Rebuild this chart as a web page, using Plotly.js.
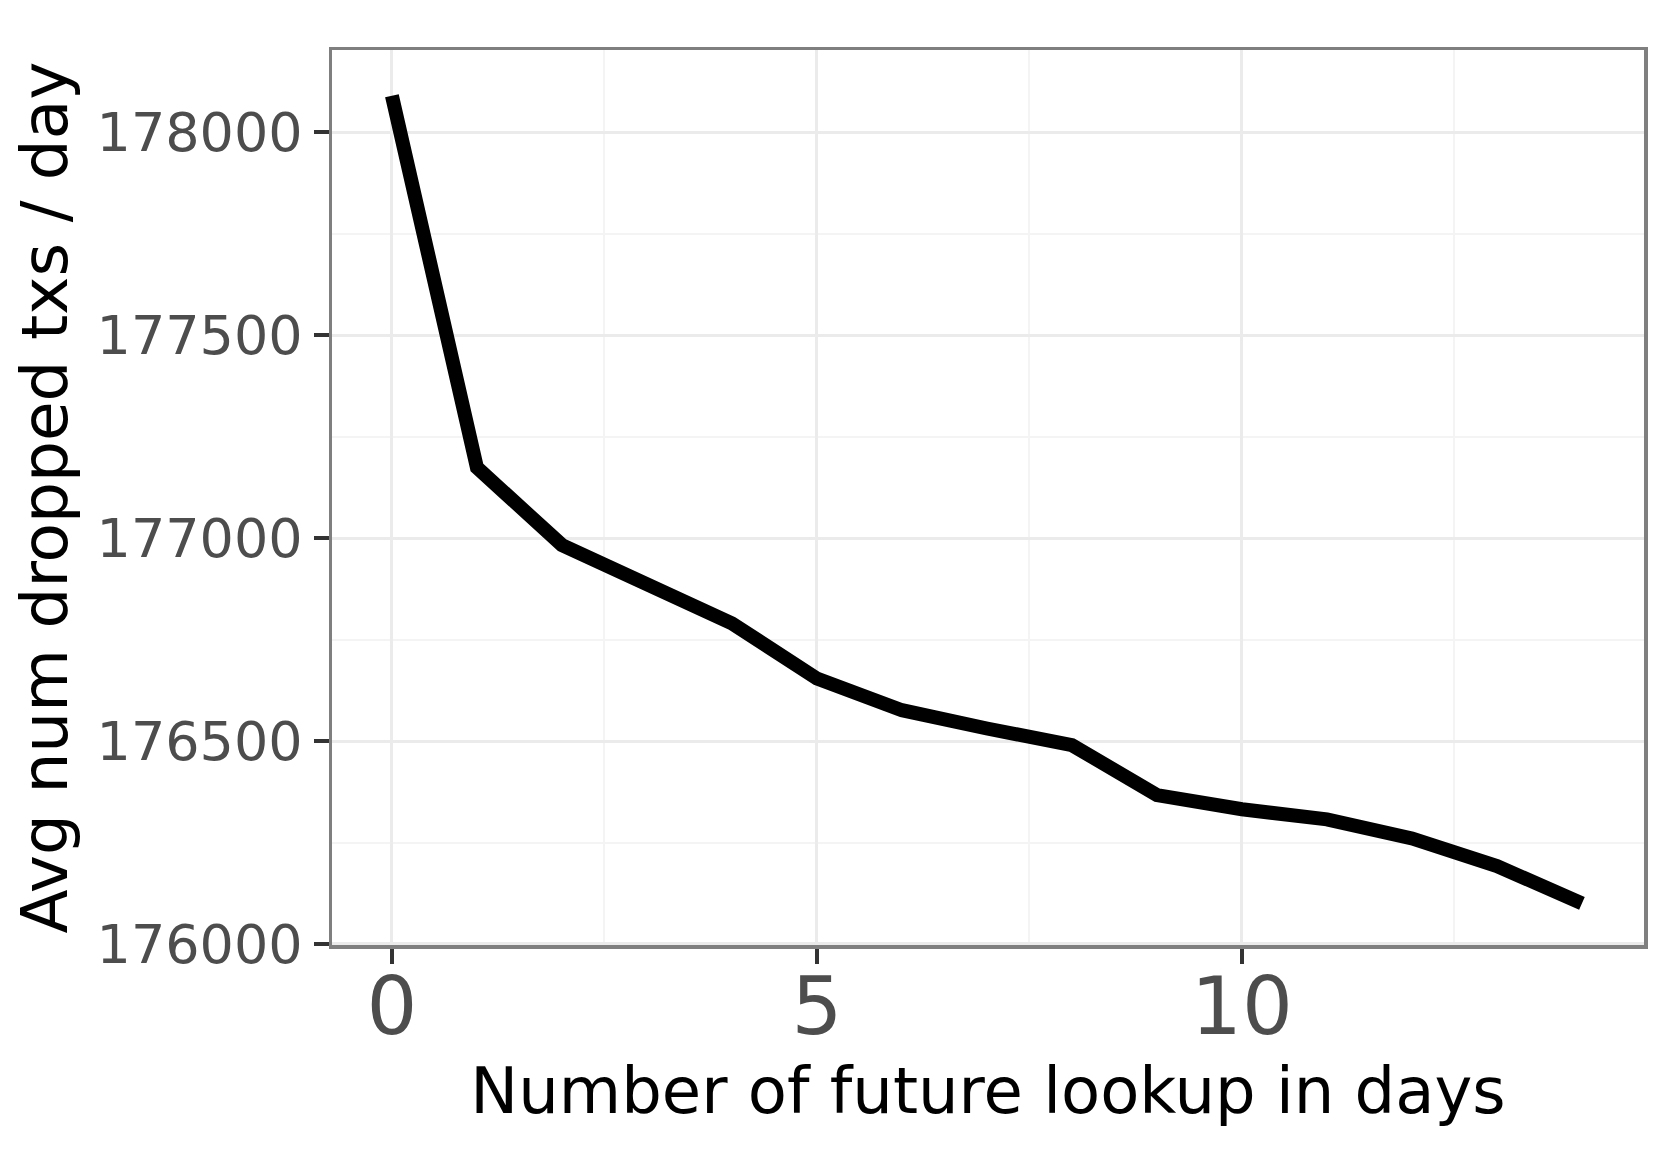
<!DOCTYPE html>
<html>
<head>
<meta charset="utf-8">
<script src="https://cdn.plot.ly/plotly-3.0.1.min.js"></script>
<style>html,body{margin:0;padding:0;background:#fff;}#chart{width:1661px;height:1163px;}</style>
</head>
<body>
<div id="chart"></div>
<script>
const lookupDays = [0, 1, 2, 3, 4, 5, 6, 7, 8, 9, 10, 11, 12, 13, 14];
const avgDropped = [178090, 177174, 176983, 176891, 176790, 176654, 176576, 176531, 176490, 176367, 176332, 176307, 176260, 176192, 176100];
const xTicks = [0, 5, 10];
const yTicks = [176000, 176500, 177000, 177500, 178000];
const xTitle = "Number of future lookup in days";
const yTitle = "Avg num dropped txs / day";

const font = "DejaVu Sans, sans-serif";
const trace = {
  x: lookupDays, y: avgDropped, type: "scatter", mode: "lines",
  line: {color: "#000000", width: 14}, hoverinfo: "skip", showlegend: false
};
const layout = {
  width: 1661, height: 1163,
  margin: {l: 332, r: 17, t: 50, b: 218},
  paper_bgcolor: "#ffffff", plot_bgcolor: "#ffffff",
  font: {family: font},
  xaxis: {
    range: [-0.705, 14.73], tickvals: xTicks, ticktext: xTicks.map(String),
    ticks: "outside", ticklen: 15, tickwidth: 4, tickcolor: "#333333",
    tickfont: {size: 80, color: "#4d4d4d", family: font},
    ticklabelstandoff: -26,
    showgrid: true, gridcolor: "#ebebeb", gridwidth: 3,
    minor: {tickvals: [2.5, 7.5, 12.5], showgrid: true, gridcolor: "#f4f4f4", gridwidth: 2, ticks: ""},
    showline: true, mirror: true, linecolor: "#7f7f7f", linewidth: 3.5,
    zeroline: false, automargin: false,
    title: {text: xTitle, font: {size: 64, color: "#000000", family: font}, standoff: 17}
  },
  yaxis: {
    range: [175997.5, 178202.7], tickvals: yTicks, ticktext: yTicks.map(String),
    ticks: "outside", ticklen: 15, tickwidth: 4, tickcolor: "#333333",
    tickfont: {size: 54, color: "#4d4d4d", family: font},
    showgrid: true, gridcolor: "#ebebeb", gridwidth: 3,
    minor: {tickvals: [176250, 176750, 177250, 177750], showgrid: true, gridcolor: "#f4f4f4", gridwidth: 2, ticks: ""},
    showline: true, mirror: true, linecolor: "#7f7f7f", linewidth: 3.5,
    zeroline: false, automargin: false,
    title: {text: yTitle, font: {size: 64.5, color: "#000000", family: font}, standoff: 9}
  }
};
Plotly.newPlot("chart", [trace], layout, {staticPlot: true, displayModeBar: false});
</script>
</body>
</html>
